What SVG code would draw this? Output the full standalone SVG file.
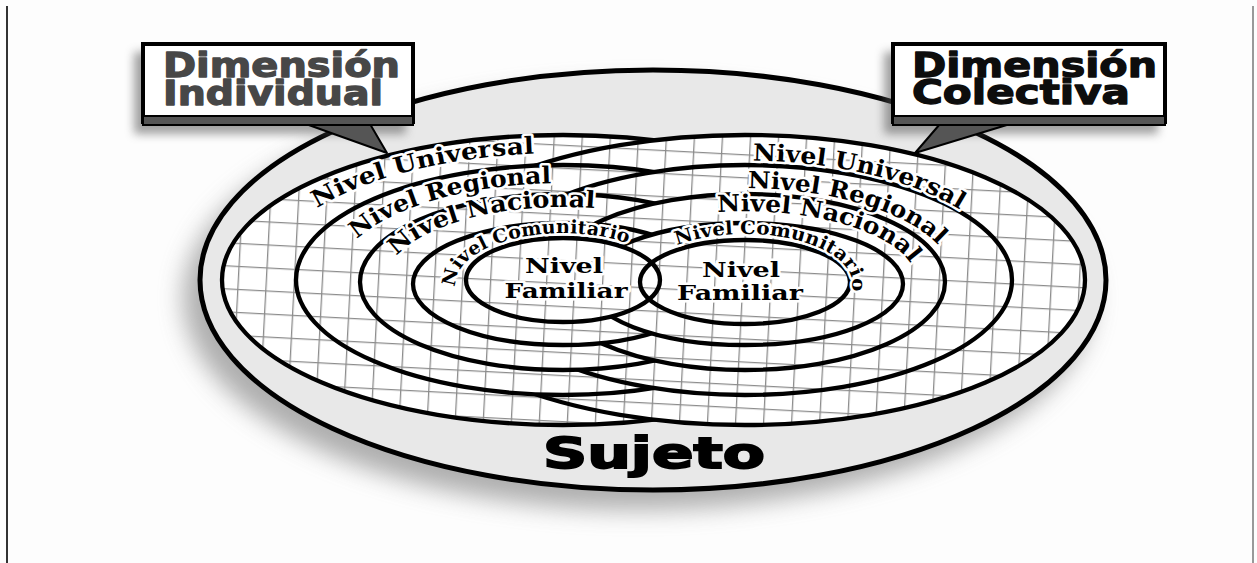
<svg xmlns="http://www.w3.org/2000/svg" width="1257" height="563" viewBox="0 0 1257 563">
<defs>
<style>
.lvl{font-family:"DejaVu Serif","Liberation Serif",serif;font-weight:bold;fill:#000;stroke:#fff;stroke-width:5;stroke-linejoin:round;paint-order:stroke}
.ring{fill:url(#grid);stroke:#000;stroke-width:4.3}
.line{fill:none;stroke:#000;stroke-width:4.3}
.dim{font-family:"DejaVu Sans","Liberation Sans",sans-serif;font-weight:bold;font-size:34px;stroke-width:1.3;stroke-linejoin:round}
.box{fill:#fff;stroke:#000;stroke-width:4}
.band{fill:#555;stroke:#000;stroke-width:2}
.tail{fill:#555;stroke:#000;stroke-width:2;stroke-linejoin:round}
</style>
<pattern id="grid" width="28" height="23" patternUnits="userSpaceOnUse" patternTransform="rotate(3)">
<rect width="28" height="23" fill="#fff"/>
<path d="M0 0.6H28M0.6 0V23" stroke="#8c8c8c" stroke-width="1.4" fill="none"/>
</pattern>
<filter id="blur" x="-30%" y="-30%" width="160%" height="160%"><feGaussianBlur stdDeviation="12"/></filter>
<filter id="blur2" x="-30%" y="-30%" width="160%" height="160%"><feGaussianBlur stdDeviation="5"/></filter>
<path id="pL1" d="M315,209.5 A298,127 0 0 1 537,153.5"/>
<path id="pL2" d="M355,241.2 A227,97 0 0 1 554,183.1"/>
<path id="pL3" d="M395,258.3 A177,75 0 0 1 597,208.4"/>
<path id="pL4" d="M456,289 A107.5,51 0 0 1 629.5,244"/>
<path id="pR1" d="M750,160.5 A266,119.5 0 0 1 962,210.9"/>
<path id="pR2" d="M745,188.2 A209,91.8 0 0 1 940.1,247.1"/>
<path id="pR3" d="M715,212.4 A171.6,70.7 0 0 1 912,265.7"/>
<path id="pR4" d="M675,246 A107.3,50.1 0 0 1 850.5,293.1"/>
</defs>

<rect width="1257" height="563" fill="#fdfdfd"/>
<line x1="7" y1="6" x2="7" y2="563" stroke="#333" stroke-width="2"/>
<line x1="1253" y1="6" x2="1253" y2="563" stroke="#777" stroke-width="1.5"/>

<g id="sujeto">
<ellipse cx="638" cy="298" rx="455" ry="212" fill="#7a7a7a" opacity="0.6" filter="url(#blur)"/>
<ellipse cx="653" cy="280" rx="453" ry="210" fill="#e8e8e8" stroke="#000" stroke-width="5"/>
<text x="543" y="468" font-family="DejaVu Sans, Liberation Sans, sans-serif" font-weight="bold" font-size="42" textLength="222" lengthAdjust="spacingAndGlyphs" fill="#000" stroke="#000" stroke-width="1.8">Sujeto</text>
</g>

<g id="connectors">
<ellipse class="ring" cx="563" cy="280" rx="341" ry="145"/>
<ellipse class="ring" cx="745" cy="280" rx="340" ry="145"/>
<ellipse class="ring" cx="563" cy="280" rx="267" ry="115"/>
<ellipse class="ring" cx="745" cy="280" rx="267" ry="115"/>
<ellipse class="ring" cx="563" cy="282" rx="203" ry="88"/>
<ellipse class="ring" cx="745" cy="282" rx="200" ry="88"/>
<ellipse class="ring" cx="563" cy="284" rx="150" ry="61"/>
<ellipse class="ring" cx="745" cy="284" rx="158" ry="61"/>
<ellipse class="ring" cx="563" cy="280" rx="97" ry="42"/>
<ellipse class="line" cx="745" cy="282" rx="105" ry="42"/>
</g>

<g id="left-levels">
<text class="lvl" font-size="23.5"><textPath href="#pL1" startOffset="50%" text-anchor="middle" textLength="226" lengthAdjust="spacingAndGlyphs">Nivel Universal</textPath></text>
<text class="lvl" font-size="23.5"><textPath href="#pL2" startOffset="50%" text-anchor="middle" textLength="206" lengthAdjust="spacingAndGlyphs">Nivel Regional</textPath></text>
<text class="lvl" font-size="23.5"><textPath href="#pL3" startOffset="50%" text-anchor="middle" textLength="209" lengthAdjust="spacingAndGlyphs">Nivel Nacional</textPath></text>
<text class="lvl" font-size="18.5"><textPath href="#pL4" startOffset="50%" text-anchor="middle" textLength="197" lengthAdjust="spacingAndGlyphs">Nivel Comunitario</textPath></text>
<text class="lvl" font-size="21" x="564" y="273" text-anchor="middle" textLength="78" lengthAdjust="spacingAndGlyphs">Nivel</text>
<text class="lvl" font-size="21" x="566" y="298" text-anchor="middle" textLength="123" lengthAdjust="spacingAndGlyphs">Familiar</text>
</g>

<g id="right-levels">
<text class="lvl" font-size="23.5"><textPath href="#pR1" startOffset="50%" text-anchor="middle" textLength="215" lengthAdjust="spacingAndGlyphs">Nivel Universal</textPath></text>
<text class="lvl" font-size="23.5"><textPath href="#pR2" startOffset="50%" text-anchor="middle" textLength="203" lengthAdjust="spacingAndGlyphs">Nivel Regional</textPath></text>
<text class="lvl" font-size="23.5"><textPath href="#pR3" startOffset="50%" text-anchor="middle" textLength="206" lengthAdjust="spacingAndGlyphs">Nivel Nacional</textPath></text>
<text class="lvl" font-size="18.5"><textPath href="#pR4" startOffset="50%" text-anchor="middle" textLength="204" lengthAdjust="spacingAndGlyphs">Nivel Comunitario</textPath></text>
<text class="lvl" font-size="21" x="741" y="277" text-anchor="middle" textLength="78" lengthAdjust="spacingAndGlyphs">Nivel</text>
<text class="lvl" font-size="21" x="740" y="300" text-anchor="middle" textLength="126" lengthAdjust="spacingAndGlyphs">Familiar</text>
</g>

<g id="dim-individual">
<rect x="134" y="52" width="272" height="82" fill="#555" opacity="0.55" filter="url(#blur2)"/>
<polygon class="tail" points="306,124 370,124 387,153"/>
<rect class="box" x="143" y="44" width="270" height="78"/>
<rect class="band" x="143" y="116" width="270" height="9"/>
<text class="dim" x="163" y="77" textLength="237" lengthAdjust="spacingAndGlyphs" fill="#474747" stroke="#474747">Dimensión</text>
<text class="dim" x="163" y="105" textLength="220" lengthAdjust="spacingAndGlyphs" fill="#474747" stroke="#474747">Individual</text>
</g>

<g id="dim-colectiva">
<rect x="884" y="52" width="274" height="82" fill="#555" opacity="0.55" filter="url(#blur2)"/>
<polygon class="tail" points="940,124 1010,124 915,153"/>
<rect class="box" x="893" y="44" width="272" height="78"/>
<rect class="band" x="893" y="116" width="272" height="9"/>
<text class="dim" x="912" y="77" textLength="245" lengthAdjust="spacingAndGlyphs" fill="#0d0d0d" stroke="#0d0d0d">Dimensión</text>
<text class="dim" x="912" y="104" textLength="218" lengthAdjust="spacingAndGlyphs" fill="#0d0d0d" stroke="#0d0d0d">Colectiva</text>
</g>
</svg>
